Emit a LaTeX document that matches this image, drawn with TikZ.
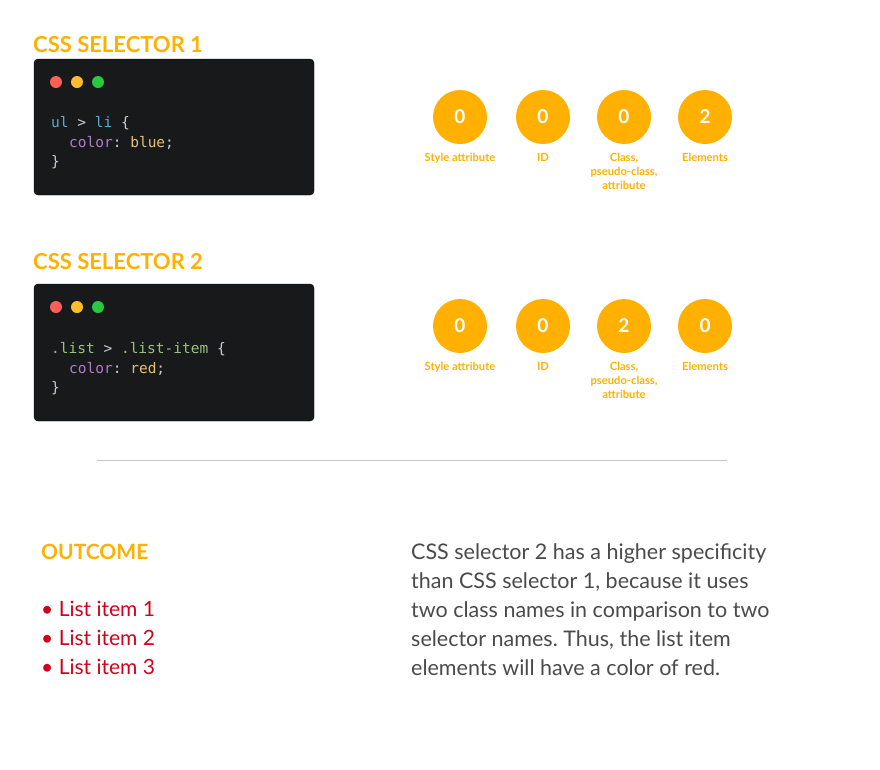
\documentclass[tikz,border=0pt]{standalone}
\usepackage{fontspec}
\setmainfont{Lato}
\setmonofont{DejaVu Sans Mono}
\usetikzlibrary{positioning}
\frenchspacing
\definecolor{amber}{HTML}{FFB000}
\definecolor{panel}{HTML}{18191B}
\definecolor{dotred}{HTML}{FF5F56}
\definecolor{dotyellow}{HTML}{FFBD2E}
\definecolor{dotgreen}{HTML}{27C93F}
\definecolor{tokblue}{HTML}{56AFCB}
\definecolor{tokgreen}{HTML}{98C379}
\definecolor{tokpurple}{HTML}{B07CC6}
\definecolor{tokyellow}{HTML}{E5C07B}
\definecolor{tokgray}{HTML}{C8CCD0}
\definecolor{listred}{HTML}{D0021B}
\definecolor{bodygray}{HTML}{4A4A4A}
\tikzset{
  heading/.style={anchor=base west, inner sep=0, text=amber,
    font=\bfseries\fontsize{22}{22}\selectfont},
  codepanel/.style={fill=panel, rounded corners=4pt},
  code/.style={anchor=base west, inner sep=0, text=tokgray,
    font=\ttfamily\fontsize{14.5}{14.5}\selectfont},
  counter/.style={circle, fill=amber, minimum size=54pt, inner sep=0,
    text=white, font=\bfseries\fontsize{19}{19}\selectfont},
  cntlabel/.style={below=9pt of #1, anchor=north, inner sep=0, align=center,
    text=amber, font=\bfseries\fontsize{11.2}{14}\selectfont},
  body/.style={anchor=base west, inner sep=0,
    font=\fontsize{21}{29}\selectfont},
}
\begin{document}
\begin{tikzpicture}[x=1pt, y=-1pt]
  \useasboundingbox (0,0) rectangle (880,769);
  % selector 1
  \node[heading] (head1) at (33,52) {CSS SELECTOR 1};
  \draw[codepanel] (34,59) rectangle (314,195);
  \fill[dotred] (56,82) circle[radius=6];
  \fill[dotyellow] (77,82) circle[radius=6];
  \fill[dotgreen] (98,82) circle[radius=6];
  \node[code] (codeA1) at (51,127)
    {\textcolor{tokblue}{ul} > \textcolor{tokblue}{li} \{};
  \node[code] (codeA2) at (69,147)
    {\textcolor{tokpurple}{color}: \textcolor{tokyellow}{blue};};
  \node[code] (codeA3) at (51,166) {\}};
  \node[counter] (styleA) at (460,117) {0};
  \node[counter] (idA) at (543,117) {0};
  \node[counter] (classA) at (624,117) {0};
  \node[counter] (elemA) at (705,117) {2};
  \node[cntlabel=styleA] (styleAl) {Style attribute};
  \node[cntlabel=idA] (idAl) {ID};
  \node[cntlabel=classA] (classAl) {Class,\\pseudo-class,\\attribute};
  \node[cntlabel=elemA] (elemAl) {Elements};
  % selector 2
  \node[heading] (head2) at (33,269) {CSS SELECTOR 2};
  \draw[codepanel] (34,284) rectangle (314,421);
  \fill[dotred] (56,307) circle[radius=6];
  \fill[dotyellow] (77,307) circle[radius=6];
  \fill[dotgreen] (98,307) circle[radius=6];
  \node[code] (codeB1) at (51,353)
    {\textcolor{tokgreen}{.list} > \textcolor{tokgreen}{.list-item} \{};
  \node[code] (codeB2) at (69,373)
    {\textcolor{tokpurple}{color}: \textcolor{tokyellow}{red};};
  \node[code] (codeB3) at (51,392) {\}};
  \node[counter] (styleB) at (460,326) {0};
  \node[counter] (idB) at (543,326) {0};
  \node[counter] (classB) at (624,326) {2};
  \node[counter] (elemB) at (705,326) {0};
  \node[cntlabel=styleB] (styleBl) {Style attribute};
  \node[cntlabel=idB] (idBl) {ID};
  \node[cntlabel=classB] (classBl) {Class,\\pseudo-class,\\attribute};
  \node[cntlabel=elemB] (elemBl) {Elements};
  % divider
  \draw[black!22, line width=0.8pt] (97,460) -- (727,460);
  % outcome
  \node[body, text=amber, font=\bfseries\fontsize{21}{21}\selectfont]
    (outcome) at (41,559) {OUTCOME};
  \node[body, text=listred] (item1) at (41,616) {• List item 1};
  \node[body, text=listred] (item2) at (41,645) {• List item 2};
  \node[body, text=listred] (item3) at (41,674) {• List item 3};
  \node[body, text=bodygray, align=left, anchor=north west,
    font=\fontsize{21.5}{29}\selectfont] (summary)
    at (411,543) {CSS selector 2 has a higher specificity\\
    than CSS selector 1, because it uses\\
    two class names in comparison to two\\
    selector names. Thus, the list item\\
    elements will have a color of red.};
\end{tikzpicture}
\end{document}
